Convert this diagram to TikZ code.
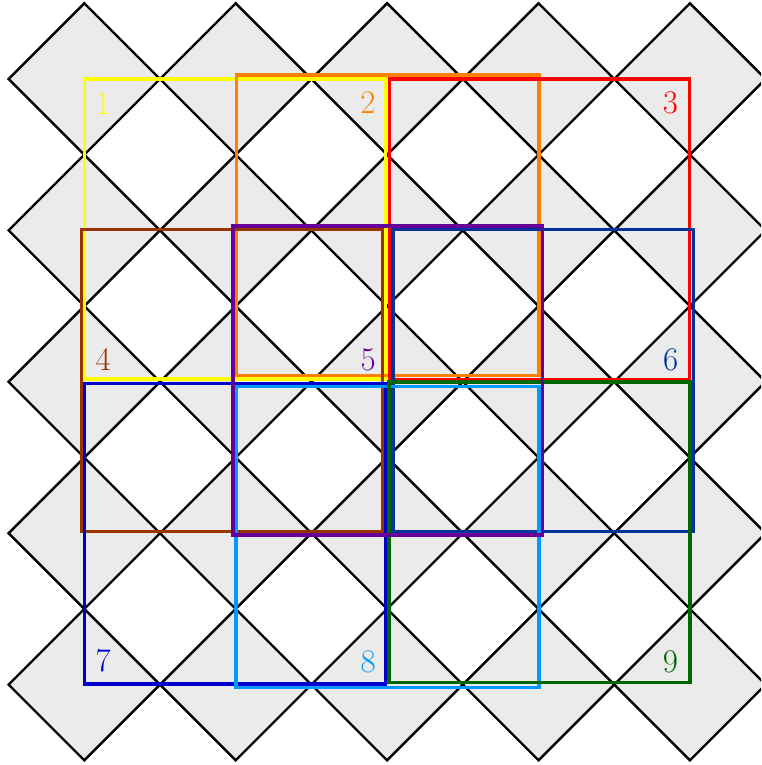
\documentclass[tikz,border=0pt]{standalone}
\definecolor{cgray}{RGB}{235,235,235}
\definecolor{cyellow}{RGB}{255,255,0}
\definecolor{corange}{RGB}{255,128,0}
\definecolor{cred}{RGB}{255,0,0}
\definecolor{cbrown}{RGB}{153,51,0}
\definecolor{cpurple}{RGB}{102,0,153}
\definecolor{cnavy}{RGB}{0,51,153}
\definecolor{cblue}{RGB}{0,0,204}
\definecolor{clight}{RGB}{0,153,255}
\definecolor{cgreen}{RGB}{0,102,0}
\tikzset{
  tile/.style={fill=cgray,draw=black,line width=2.4pt,line join=miter},
  box/.style={line width=3.3pt,line join=miter},
  lab/.style={inner sep=0pt,font=\fontsize{33}{33}\selectfont},
}
\begin{document}
\begin{tikzpicture}[x=1pt,y=-1pt]
\useasboundingbox (0,0) rectangle (761,765);
\clip (0,0) rectangle (761,765);
% diamonds
\foreach \i in {0,...,4}{
  \foreach \j in {0,...,4}{
    \pgfmathsetmacro{\cx}{84.3+151.4*\i}
    \pgfmathsetmacro{\cy}{79+151.4*\j}
    \draw[tile] (\cx-75.7,\cy) -- (\cx,\cy-75.7) -- (\cx+75.7,\cy) -- (\cx,\cy+75.7) -- cycle;
  }
}
% boxes
\draw[box,cyellow] (84.3,79) rectangle (385.7,379);
\node[lab,text=cyellow] (l1) at (103.3,103.3) {1};
\draw[box,corange] (236.3,75) rectangle (539,375.7);
\node[lab,text=corange] (l2) at (368,103) {2};
\draw[box,cred] (389.3,79) rectangle (689.7,379.5);
\node[lab,text=cred] (l3) at (670.5,103) {3};
\draw[box,cbrown] (81.3,229.7) rectangle (382.3,531.7);
\node[lab,text=cbrown] (l4) at (103.3,359.5) {4};
\draw[box,cnavy] (393,229.3) rectangle (693.3,531.3);
\node[lab,text=cnavy] (l6) at (670.7,360) {6};
\draw[box,cblue] (84.3,383.3) rectangle (385.3,684);
\node[lab,text=cblue] (l7) at (103.3,661) {7};
\draw[box,clight] (236,386.7) rectangle (539,687.3);
\node[lab,text=clight] (l8) at (368.3,661.5) {8};
\draw[box,cgreen] (389,382) rectangle (690,682.7);
\node[lab,text=cgreen] (l9) at (670.5,661.5) {9};
\draw[box,cpurple] (233,226) rectangle (542.7,535);
\node[lab,text=cpurple] (l5) at (368.3,359.5) {5};
\end{tikzpicture}
\end{document}
